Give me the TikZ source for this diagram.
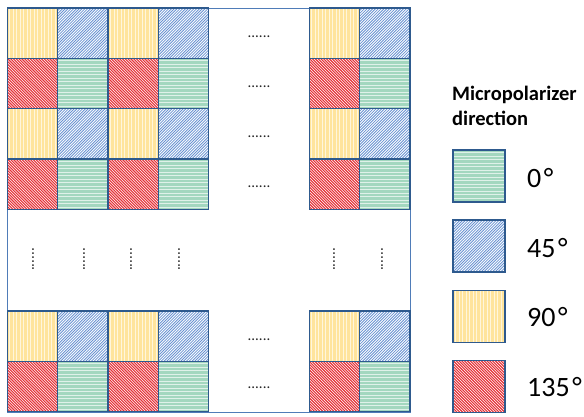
\documentclass[tikz,border=0pt]{standalone}
\usepackage{fontspec}
\setmainfont{Carlito}
\usetikzlibrary{positioning}

\definecolor{cellframe}{HTML}{2E5A8E}
\definecolor{outframe}{HTML}{4F7CB8}
\definecolor{yelbase}{HTML}{FFE49C}
\definecolor{grnbase}{HTML}{A3D7BF}
\definecolor{bluhatch}{HTML}{6892D2}
\definecolor{redhatch}{HTML}{E53238}

% one micropolarizer cell: top-left corner x, y and side
\newcommand{\vcell}[3]{% 90 deg
  \begin{scope}
    \clip (#1,#2) rectangle ++(#3,#3);
    \fill[yelbase] (#1,#2) rectangle ++(#3,#3);
    \foreach \t in {2.5,6,...,52}
      \draw[white!65!yelbase,line width=0.8pt] ({#1+\t},#2) -- ++(0,#3);
  \end{scope}
  \draw[cellframe,line width=1.3pt] (#1,#2) rectangle ++(#3,#3);}
\newcommand{\hcell}[3]{% 0 deg
  \begin{scope}
    \clip (#1,#2) rectangle ++(#3,#3);
    \fill[grnbase] (#1,#2) rectangle ++(#3,#3);
    \foreach \t in {2.5,6,...,52}
      \draw[white!65!grnbase,line width=0.8pt] (#1,{#2+\t}) -- ++(#3,0);
  \end{scope}
  \draw[cellframe,line width=1.3pt] (#1,#2) rectangle ++(#3,#3);}
\newcommand{\dcell}[3]{% 45 deg
  \begin{scope}
    \clip (#1,#2) rectangle ++(#3,#3);
    \fill[white] (#1,#2) rectangle ++(#3,#3);
    \foreach \t in {-56,-53.2,...,56}
      \draw[bluhatch,line width=0.8pt] ({#1+\t},{#2+#3}) -- ++(#3,-#3);
  \end{scope}
  \draw[cellframe,line width=1.3pt] (#1,#2) rectangle ++(#3,#3);}
\newcommand{\acell}[3]{% 135 deg
  \begin{scope}
    \clip (#1,#2) rectangle ++(#3,#3);
    \fill[white] (#1,#2) rectangle ++(#3,#3);
    \foreach \t in {-56,-53.2,...,56}
      \draw[redhatch,line width=1.1pt] ({#1+\t},#2) -- ++(#3,#3);
  \end{scope}
  \draw[cellframe,line width=1.3pt] (#1,#2) rectangle ++(#3,#3);}

\begin{document}
\begin{tikzpicture}[x=1pt,y=-1pt,
  hdots/.style={font=\fontsize{15}{15}\selectfont,inner sep=0pt,text=black!85},
  vdots/.style={hdots,rotate=90},
  legendtext/.style={font=\fontsize{28}{28}\selectfont,anchor=base west,inner sep=0pt},
  headtext/.style={font=\fontsize{20.5}{20.5}\selectfont\bfseries,anchor=base west,inner sep=0pt}]
  \useasboundingbox (0,0) rectangle (584,416);
  \fill[white] (0,0) rectangle (584,416);
  % array
  \draw[outframe,line width=0.8pt] (7.3,8) rectangle (410,412);
  \foreach \cx in {7.3,107.9,309.2}
    \foreach \cy in {8,108.6,311}
      {\vcell{\cx}{\cy}{50.4}}
  \foreach \cx in {57.6,158.2,359.5}
    \foreach \cy in {8,108.6,311}
      {\dcell{\cx}{\cy}{50.4}}
  \foreach \cx in {7.3,107.9,309.2}
    \foreach \cy in {58.3,158.9,361.3}
      {\acell{\cx}{\cy}{50.4}}
  \foreach \cx in {57.6,158.2,359.5}
    \foreach \cy in {58.3,158.9,361.3}
      {\hcell{\cx}{\cy}{50.4}}
  % ellipses
  \node[hdots] (dotsa) at (259,37) {......};
  \node[hdots] (dotsb) at (259,87) {......};
  \node[hdots] (dotsc) at (259,137) {......};
  \node[hdots] (dotsd) at (259,187) {......};
  \node[hdots] (dotse) at (259,340) {......};
  \node[hdots] (dotsf) at (259,388) {......};
  \node[vdots] (vdotsa) at (33,259.5) {......};
  \node[vdots] (vdotsb) at (84,259.5) {......};
  \node[vdots] (vdotsc) at (131,259.5) {......};
  \node[vdots] (vdotsd) at (179,259.5) {......};
  \node[vdots] (vdotse) at (334,259.5) {......};
  \node[vdots] (vdotsf) at (382,259.5) {......};
  % legend
  \node[headtext] (head) at (452,100) {Micropolarizer};
  \node[headtext] (headb) at ([yshift=-25pt]head.base west) {direction};
  \hcell{453}{150}{52}
  \dcell{453}{220}{52}
  \vcell{453}{290.5}{52}
  \acell{453}{360.5}{52}
  \node[legendtext] (lzero) at (527,187) {0\hspace{2.5pt}°};
  \node[legendtext] (lfortyfive) at (527,257) {45\hspace{2.5pt}°};
  \node[legendtext] (lninety) at (527,326) {90\hspace{2.5pt}°};
  \node[legendtext] (lonethirtyfive) at (527,396) {135\hspace{2.5pt}°};
\end{tikzpicture}
\end{document}
